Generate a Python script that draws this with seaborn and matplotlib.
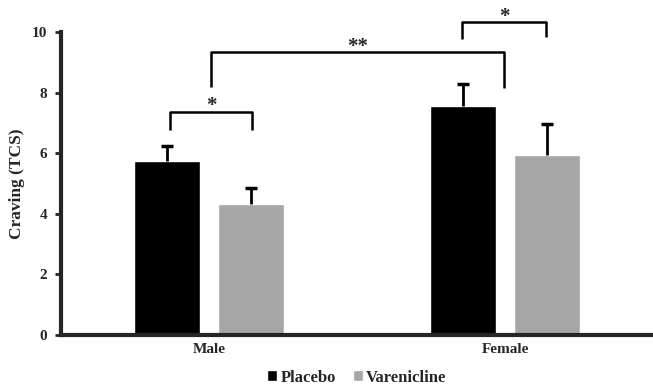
import pandas as pd
import numpy as np
import matplotlib
matplotlib.use("Agg")
import matplotlib.pyplot as plt
import seaborn as sns

# data
groups = ["Male", "Female"]
treatments = ["Placebo", "Varenicline"]
placebo = [5.74, 7.57]
varenicline = [4.32, 5.95]
placebo_err = [0.50, 0.70]
varenicline_err = [0.53, 1.03]

df = pd.DataFrame({
    "sex": groups * 2,
    "treatment": ["Placebo"] * 2 + ["Varenicline"] * 2,
    "craving": placebo + varenicline,
})
errs = {"Placebo": placebo_err, "Varenicline": varenicline_err}

sns.set_style("white")
plt.rcParams["font.family"] = ["Liberation Serif", "DejaVu Serif"]
plt.rcParams["font.weight"] = "bold"

fig = plt.figure(figsize=(6.53, 3.86), dpi=100)
ax = fig.add_axes([0.0934, 0.132, 0.9066, 0.785])

sns.barplot(data=df, x="sex", y="craving", hue="treatment", order=groups,
            hue_order=treatments, palette=["#000000", "#a6a6a6"],
            width=0.572, gap=0.22, errorbar=None, saturation=1, ax=ax)

# upper-only error bars: stem + cap
for cont, trt in zip(ax.containers, treatments):
    xs = np.array([b.get_x() + b.get_width() / 2 for b in cont])
    hs = np.array([b.get_height() for b in cont])
    tops = hs + np.array(errs[trt])
    ax.vlines(xs, hs, tops, color="black", lw=2)
    ax.plot(xs, tops, ls="none", marker="_", color="black", ms=8, mew=2.5)

ax.set_xlim(-0.5, 1.5)
ax.set_ylim(0, 10)
ax.set_yticks([0, 2, 4, 6, 8, 10])
ax.set_xlabel("")
ax.set_ylabel("Craving (TCS)", fontsize=12.5, fontweight="bold", labelpad=5)
ax.tick_params(axis="y", direction="out", length=4, width=2, labelsize=11, pad=6, left=True)
ax.tick_params(axis="x", length=0, labelsize=11, pad=6)
for lab in ax.get_xticklabels() + ax.get_yticklabels():
    lab.set_fontweight("bold")
sns.despine(ax=ax)
ax.spines["left"].set_linewidth(3)
ax.spines["bottom"].set_linewidth(3)

# significance brackets
def bracket(x1, x2, y_top, y1, y2, label, ty):
    ax.plot([x1, x1, x2, x2], [y1, y_top, y_top, y2], color="black", lw=1.8,
            clip_on=False, solid_capstyle="butt")
    ax.text((x1 + x2) / 2, ty, label, ha="center", va="center", fontsize=15,
            fontweight="bold", clip_on=False)

bracket(-0.131, 0.144, 7.35, 6.77, 6.77, "*", 7.55)
bracket(0.008, 0.995, 9.35, 8.18, 8.15, "**", 9.52)
bracket(0.856, 1.137, 10.32, 9.77, 9.82, "*", 10.5)

sns.move_legend(ax, "upper center", bbox_to_anchor=(0.5, -0.092), ncol=2,
                frameon=False, title=None, fontsize=12, handlelength=0.6,
                handleheight=0.6, handletextpad=0.2, columnspacing=1.0,
                borderaxespad=0.2, borderpad=0.2)
for t in ax.get_legend().get_texts():
    t.set_fontweight("bold")

fig.savefig("out.png", dpi=100)
